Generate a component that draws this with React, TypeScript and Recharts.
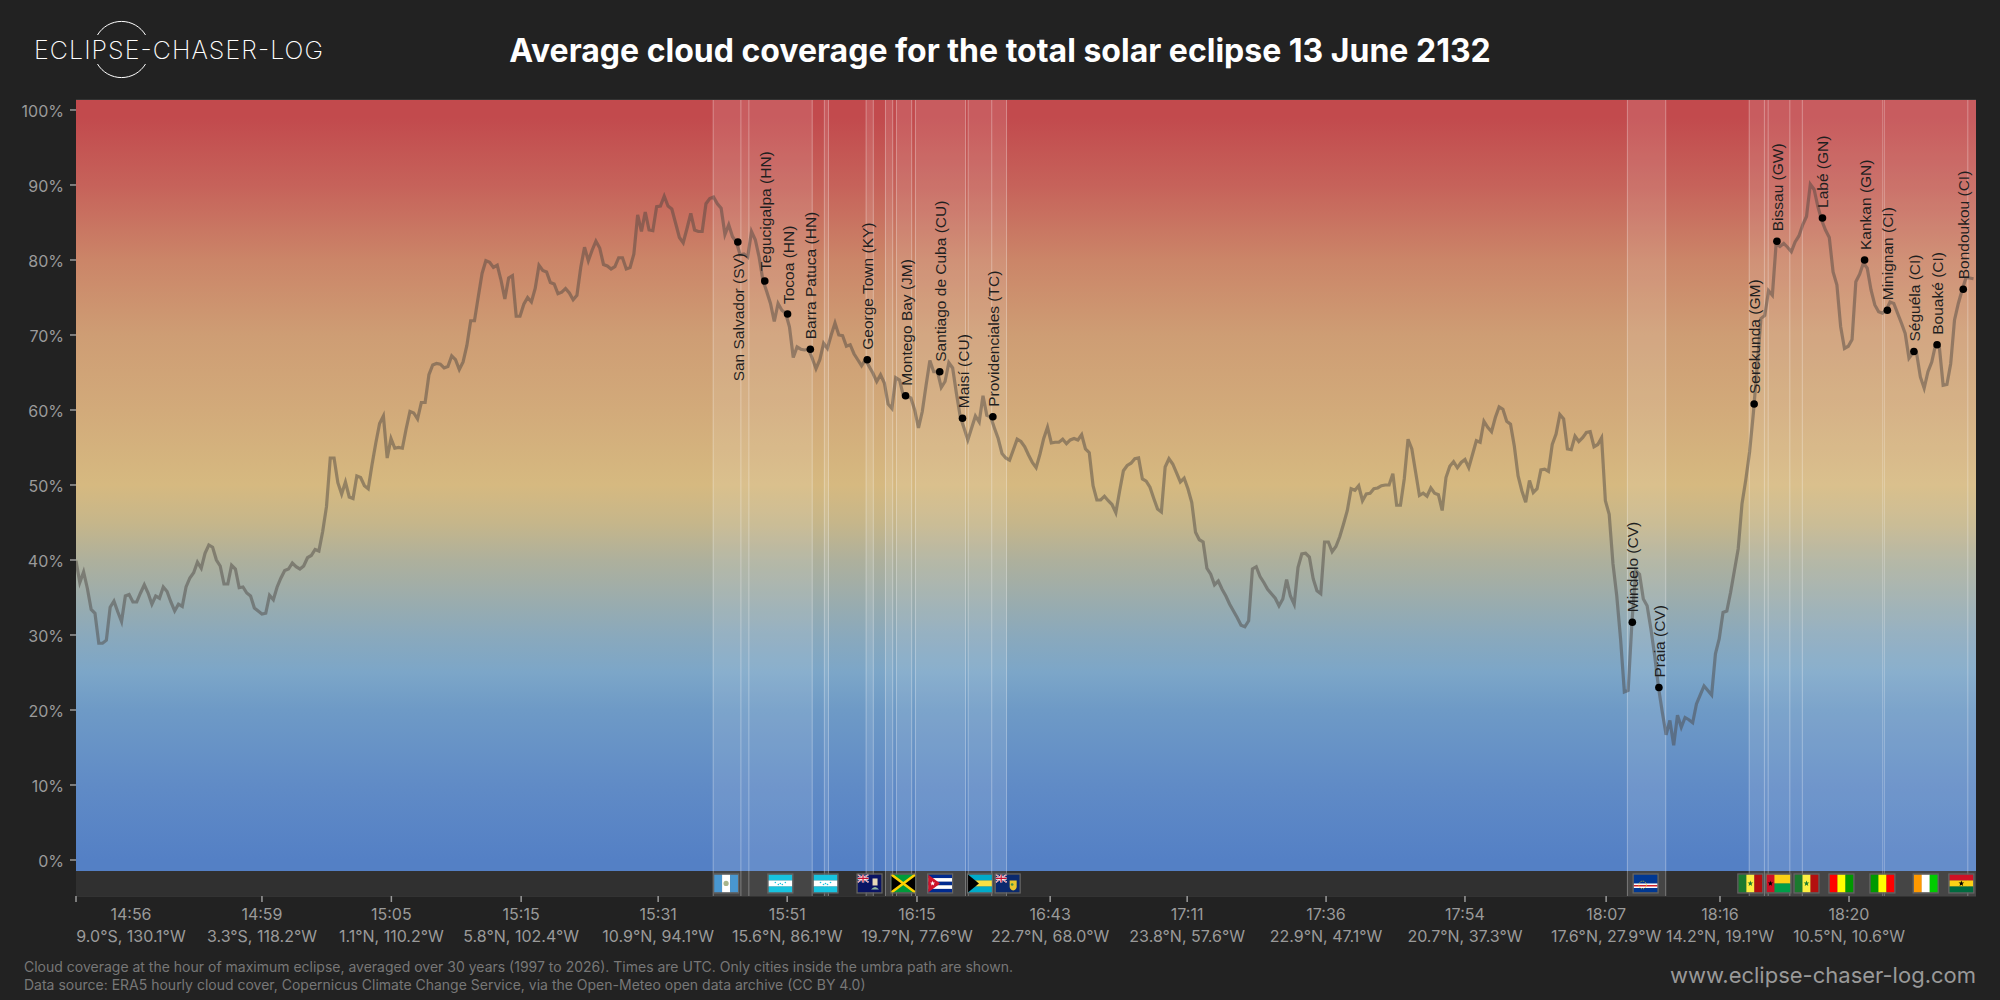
import React from 'react';
import {
  CartesianGrid,
  ComposedChart,
  Line,
  ReferenceArea,
  ReferenceLine,
  Scatter,
  XAxis,
  YAxis,
} from 'recharts';

const UI_FONT = 'Inter, "Noto Sans", sans-serif';
const CITY_FONT = '"Liberation Sans", Arial, sans-serif';

// Mean cloud cover (%) per sample along the eclipse track
const cloudCover = [
  39.9, 37.0, 38.4, 36.2, 33.4, 32.9, 28.9, 28.9, 29.3, 33.7,
  34.5, 33.1, 31.8, 35.2, 35.4, 34.4, 34.4, 35.6, 36.7, 35.6,
  34.1, 35.2, 34.9, 36.4, 35.8, 34.4, 33.2, 34.1, 33.8, 36.4,
  37.6, 38.3, 39.7, 38.9, 40.9, 42.0, 41.7, 40.0, 39.2, 36.8,
  36.8, 39.3, 38.8, 36.3, 36.4, 35.6, 35.2, 33.6, 33.2, 32.8,
  32.9, 35.3, 34.7, 36.4, 37.6, 38.6, 38.8, 39.6, 39.1, 38.8,
  39.2, 40.3, 40.6, 41.4, 41.2, 43.8, 47.1, 53.6, 53.6, 50.3,
  48.8, 50.4, 48.4, 48.2, 51.2, 51.0, 49.9, 49.5, 52.7, 55.6,
  58.2, 59.2, 53.6, 56.2, 54.9, 55.0, 54.9, 57.5, 59.8, 59.6,
  58.8, 61.0, 61.0, 64.7, 66.0, 66.2, 66.1, 65.6, 65.8, 67.2,
  66.7, 65.4, 66.4, 68.6, 71.9, 71.9, 75.1, 78.2, 79.9, 79.7,
  79.0, 79.3, 77.3, 74.8, 77.6, 77.9, 72.5, 72.5, 74.1, 75.0,
  74.4, 76.2, 79.3, 78.6, 78.4, 77.0, 76.8, 75.5, 75.7, 76.2,
  75.6, 74.7, 75.3, 79.0, 81.7, 79.9, 81.3, 82.5, 81.6, 79.4,
  79.2, 78.8, 79.1, 80.3, 80.3, 78.8, 79.0, 80.8, 86.0, 83.8,
  86.4, 84.0, 83.9, 87.1, 87.2, 88.5, 87.2, 86.8, 84.9, 83.0,
  82.3, 84.2, 86.2, 84.0, 83.8, 83.8, 87.5, 88.2, 88.4, 87.5,
  86.9, 83.4, 84.7, 83.1, 82.4, 80.7, 80.8, 80.4, 83.8, 82.7,
  80.4, 77.3, 75.8, 74.2, 71.8, 74.2, 73.3, 72.9, 71.1, 67.0,
  68.4, 68.1, 68.0, 68.1, 66.9, 65.5, 66.7, 68.9, 68.2, 70.0,
  71.6, 70.0, 69.9, 68.5, 68.7, 67.5, 66.7, 65.9, 66.7, 65.8,
  64.9, 63.8, 64.7, 63.6, 60.8, 60.2, 64.3, 64.0, 61.9, 61.8,
  61.6, 60.0, 57.6, 59.8, 63.3, 66.6, 65.1, 65.1, 63.0, 63.8,
  66.3, 65.6, 62.2, 59.1, 57.6, 56.0, 57.6, 59.2, 58.4, 61.9,
  59.3, 59.1, 57.6, 56.2, 54.2, 53.6, 53.3, 54.7, 56.1, 55.8,
  55.1, 54.0, 53.0, 52.3, 54.1, 56.2, 57.7, 55.6, 55.7, 55.7,
  56.1, 55.5, 56.0, 56.2, 56.0, 56.7, 54.8, 54.3, 49.9, 48.0,
  48.0, 48.5, 47.9, 47.4, 46.3, 49.2, 51.9, 52.6, 52.9, 53.5,
  53.6, 50.8, 50.5, 49.7, 48.2, 46.8, 46.4, 52.4, 53.5, 52.8,
  51.6, 50.4, 50.9, 49.5, 47.7, 43.7, 42.7, 42.4, 38.9, 38.1,
  36.7, 37.2, 36.1, 35.2, 34.1, 33.2, 32.3, 31.3, 31.1, 31.9,
  38.8, 39.1, 37.8, 37.0, 36.1, 35.5, 34.9, 33.9, 34.8, 37.4,
  35.2, 34.1, 39.0, 40.8, 40.9, 40.4, 37.5, 35.9, 35.5, 42.4,
  42.4, 41.1, 41.8, 43.1, 44.8, 46.6, 49.5, 49.3, 49.9, 47.9,
  48.8, 48.9, 49.5, 49.6, 49.9, 50.0, 50.0, 51.5, 47.3, 47.3,
  50.8, 56.1, 54.8, 51.7, 48.6, 48.9, 48.5, 49.6, 48.9, 48.7,
  46.6, 51.0, 52.5, 53.1, 52.3, 53.0, 53.4, 52.3, 54.1, 55.9,
  55.7, 58.5, 57.7, 57.1, 59.0, 60.4, 60.1, 58.5, 58.1, 55.2,
  51.2, 49.2, 47.7, 50.6, 49.0, 49.5, 52.0, 52.1, 51.8, 55.4,
  56.8, 59.4, 58.8, 54.8, 54.7, 56.5, 55.8, 56.3, 57.0, 57.1,
  55.1, 55.4, 56.3, 47.9, 46.1, 39.5, 35.2, 29.5, 22.4, 22.6,
  31.7, 38.6, 38.1, 34.8, 33.9, 30.8, 27.2, 23.0, 19.7, 16.7,
  18.6, 15.3, 19.3, 17.7, 19.0, 18.7, 18.3, 20.8, 22.0, 23.2,
  22.6, 22.0, 27.5, 29.5, 33.0, 33.2, 35.7, 38.6, 41.5, 47.5,
  50.7, 54.4, 59.6, 65.8, 72.2, 72.6, 75.9, 75.3, 82.2, 81.8,
  82.2, 81.7, 81.1, 82.4, 83.2, 84.7, 85.8, 90.1, 89.4, 87.1,
  85.3, 84.0, 83.0, 78.4, 76.7, 71.1, 68.2, 68.5, 69.4, 77.1,
  78.1, 79.6, 78.9, 76.0, 74.0, 73.1, 72.9, 73.3, 74.4, 74.2,
  72.9, 71.6, 70.2, 66.9, 67.6, 67.6, 64.4, 62.9, 65.1, 66.4,
  68.7, 68.4, 63.3, 63.4, 66.2, 72.0, 74.2, 76.0, 77.6, 77.6,
  77.5,
];

const cityNames = [
  'San Salvador (SV)', 'Tegucigalpa (HN)', 'Tocoa (HN)', 'Barra Patuca (HN)',
  'George Town (KY)', 'Montego Bay (JM)', 'Santiago de Cuba (CU)', 'Maisí (CU)',
  'Providenciales (TC)', 'Mindelo (CV)', 'Praia (CV)', 'Serekunda (GM)',
  'Bissau (GW)', 'Labé (GN)', 'Kankan (GN)', 'Minignan (CI)', 'Séguéla (CI)',
  'Bouaké (CI)', 'Bondoukou (CI)',
];
const cityTrack = [
  174.4, 181.5, 187.5, 193.5, 208.5, 218.6, 227.6, 233.6, 241.6, 410.1, 417.1,
  442.2, 448.2, 460.2, 471.3, 477.3, 484.3, 490.4, 497.3,
];
const cityCover = [
  82.4, 77.2, 72.8, 68.1, 66.7, 61.9, 65.1, 58.9, 59.1, 31.7, 23.0, 60.8, 82.5,
  85.6, 80.0, 73.3, 67.8, 68.7, 76.1,
];

// Stretches of the track where a country lies inside the umbra
const umbraStart = [
  167.9, 175.2, 177.3, 197.2, 208.2, 213.3, 216.2, 221.2, 235.1, 241.3, 408.8,
  440.9, 444.9, 445.9, 451.6, 454.9, 476.5, 498.5,
];
const umbraEnd = [
  175.2, 177.3, 194.0, 198.3, 210.1, 215.2, 220.2, 234.4, 241.3, 245.2, 418.9,
  444.9, 445.9, 451.6, 454.9, 476.1, 498.5, 500.66,
];

const flagCodes = ['gt', 'hn', 'hn', 'ky', 'jm', 'cu', 'bs', 'tc', 'cv', 'sn', 'gw', 'sn', 'gn', 'ml', 'ci', 'gh'];
const flagTrack = [171.3, 185.6, 197.5, 209.1, 218.0, 227.7, 238.2, 245.5, 413.6, 441.2, 448.6, 456.0, 465.2, 476.0, 487.4, 496.8];

const xTicks = [0, 49, 83.1, 117.3, 153.4, 187.4, 221.6, 256.7, 292.8, 329.4, 366, 403.2, 433.2, 467.2];
const tickTimes = ['14:56', '14:59', '15:05', '15:15', '15:31', '15:51', '16:15', '16:43', '17:11', '17:36', '17:54', '18:07', '18:16', '18:20'];
const tickCoords = [
  '9.0°S, 130.1°W', '3.3°S, 118.2°W', '1.1°N, 110.2°W', '5.8°N, 102.4°W', '10.9°N, 94.1°W',
  '15.6°N, 86.1°W', '19.7°N, 77.6°W', '22.7°N, 68.0°W', '23.8°N, 57.6°W', '22.9°N, 47.1°W',
  '20.7°N, 37.3°W', '17.6°N, 27.9°W', '14.2°N, 19.1°W', '10.5°N, 10.6°W',
];
const yTicks = [0, 10, 20, 30, 40, 50, 60, 70, 80, 90, 100];

const gradientValues = [101.33, 99, 90, 80, 70, 60, 50, 45, 40, 30, 25, 20, 10, 0, -1.47];
const gradientColors = [
  '#c24a4d', '#c24a4d', '#c6625a', '#cb8568', '#ce9d74', '#d2aa7a', '#d6b980', '#c6b68a',
  '#aeb09c', '#8aa9bc', '#7ca6c8', '#6e9ac6', '#608bc6', '#5480c5', '#5480c5',
];

const Y_TOP = 101.33;
const Y_PLOT_BOTTOM = -1.47;
const Y_BOTTOM = -4.8;
const TRACK_END = 500.66;
const FLAG_ROW = -3.13;

const coverData = cloudCover.map((value, index) => ({ index, value }));
const cityData = cityNames.map((name, i) => ({
  name,
  index: cityTrack[i],
  value: cityCover[i],
  below: i === 0,
}));
const flagData = flagCodes.map((code, i) => ({ code, index: flagTrack[i], value: FLAG_ROW }));
const umbra = umbraStart.map((start, i) => ({ start, end: umbraEnd[i] }));
const umbraEdges = Array.from(new Set([...umbraStart, ...umbraEnd])).filter((x) => x < TRACK_END);

function star(cx: number, cy: number, r: number): string {
  const pts: string[] = [];
  for (let i = 0; i < 10; i++) {
    const rad = i % 2 === 0 ? r : r * 0.42;
    const a = -Math.PI / 2 + (i * Math.PI) / 5;
    pts.push(`${cx + rad * Math.cos(a)},${cy + rad * Math.sin(a)}`);
  }
  return pts.join(' ');
}

function bars(colors: string[], vertical = true) {
  const n = colors.length;
  return colors.map((c, i) =>
    vertical ? (
      <rect key={c + i} x={(24 / n) * i} y={0} width={24 / n + 0.2} height={18} fill={c} />
    ) : (
      <rect key={c + i} x={0} y={(18 / n) * i} width={24} height={18 / n + 0.2} fill={c} />
    ),
  );
}

function UnionCanton() {
  return (
    <g>
      <rect width={11} height={8} fill="#012169" />
      <path d="M0 0L11 8M11 0L0 8" stroke="#fff" strokeWidth={1.6} />
      <path d="M0 0L11 8M11 0L0 8" stroke="#c8102e" strokeWidth={0.6} />
      <path d="M5.5 0V8M0 4H11" stroke="#fff" strokeWidth={2.4} />
      <path d="M5.5 0V8M0 4H11" stroke="#c8102e" strokeWidth={1.2} />
    </g>
  );
}

function FlagArt({ code }: { code: string }) {
  switch (code) {
    case 'gt':
      return (
        <g>
          {bars(['#4997d0', '#ffffff', '#4997d0'])}
          <circle cx={12} cy={9} r={2.6} fill="#a9b58c" />
        </g>
      );
    case 'hn':
      return (
        <g>
          {bars(['#18c3df', '#ffffff', '#18c3df'], false)}
          {[7, 10, 12, 14, 17].map((dx, i) => (
            <circle key={i} cx={dx} cy={i === 2 ? 9 : i % 2 === 1 ? 10 : 8} r={0.8} fill="#18c3df" />
          ))}
        </g>
      );
    case 'ky':
      return (
        <g>
          <rect width={24} height={18} fill="#0a1464" />
          <UnionCanton />
          <rect x={15} y={4} width={5} height={7} fill="#e6d9b8" />
          <path d="M13.5 15Q17.5 10 21.5 15Z" fill="#8fb9a0" />
        </g>
      );
    case 'jm':
      return (
        <g>
          <rect width={24} height={18} fill="#009b3a" />
          <path d="M0 0L12 9L0 18ZM24 0L12 9L24 18Z" fill="#000" />
          <path d="M0 0L24 18M24 0L0 18" stroke="#fed100" strokeWidth={2.6} />
        </g>
      );
    case 'cu':
      return (
        <g>
          {bars(['#002a8f', '#ffffff', '#002a8f', '#ffffff', '#002a8f'], false)}
          <path d="M0 0L12 9L0 18Z" fill="#cf142b" />
          <polygon points={star(4.5, 9, 2.6)} fill="#fff" />
        </g>
      );
    case 'bs':
      return (
        <g>
          {bars(['#00abc9', '#fae042', '#00abc9'], false)}
          <path d="M0 0L11 9L0 18Z" fill="#000" />
        </g>
      );
    case 'tc':
      return (
        <g>
          <rect width={24} height={18} fill="#0b2a6e" />
          <UnionCanton />
          <path d="M14 6H21V12Q21 15 17.5 16Q14 15 14 12Z" fill="#e8c62e" />
          <circle cx={16.5} cy={10} r={1.3} fill="#3f8f4a" />
        </g>
      );
    case 'cv':
      return (
        <g>
          <rect width={24} height={18} fill="#003893" />
          <rect y={9} width={24} height={4.5} fill="#fff" />
          <rect y={10.5} width={24} height={1.5} fill="#cf2027" />
          <circle cx={9} cy={10.5} r={3.8} fill="none" stroke="#f7d116" strokeWidth={0.9} strokeDasharray="1 1.2" />
        </g>
      );
    case 'sn':
      return (
        <g>
          {bars(['#1b7a2e', '#fdef42', '#b40f0f'])}
          <polygon points={star(12, 9, 3)} fill="#1b7a2e" />
        </g>
      );
    case 'gw':
      return (
        <g>
          {bars(['#fcd116', '#009e49'], false)}
          <rect width={8} height={18} fill="#ce1126" />
          <polygon points={star(4, 9, 2.8)} fill="#000" />
        </g>
      );
    case 'gn':
      return <g>{bars(['#ff0000', '#ffff00', '#009900'])}</g>;
    case 'ml':
      return <g>{bars(['#009900', '#ffff00', '#ff0000'])}</g>;
    case 'ci':
      return <g>{bars(['#ff9900', '#ffffff', '#00cc00'])}</g>;
    case 'gh':
      return (
        <g>
          {bars(['#ce1126', '#fcd116', '#006b3f'], false)}
          <polygon points={star(12, 9, 3)} fill="#000" />
        </g>
      );
    default:
      return null;
  }
}

function FlagMark(props: any) {
  const { cx, cy, payload } = props;
  return (
    <g transform={`translate(${cx - 12},${cy - 9})`}>
      <FlagArt code={payload.code} />
      <rect x={-0.5} y={-0.5} width={25} height={19} fill="none" stroke="#666" strokeWidth={1.2} />
    </g>
  );
}

function CityMark(props: any) {
  const { cx, cy, payload } = props;
  const tx = cx + 6;
  const ty = payload.below ? cy + 11 : cy - 10;
  return (
    <g>
      <circle cx={cx} cy={cy} r={3.8} fill="#000" />
      <text
        x={tx}
        y={ty}
        transform={`rotate(-90 ${tx} ${ty})`}
        textAnchor={payload.below ? 'end' : 'start'}
        fontFamily={CITY_FONT}
        fontSize={15.5}
        fill="#1f1f1f"
      >
        {payload.name}
      </text>
    </g>
  );
}

function TrackTick(props: any) {
  const { x, y, index } = props;
  const cx = index === 0 ? x + 55 : x;
  return (
    <g fontFamily={UI_FONT} fontSize={16} fill="#9a9a9a" textAnchor="middle">
      <text x={cx} y={y + 16}>{tickTimes[index]}</text>
      <text x={cx} y={y + 38}>{tickCoords[index]}</text>
    </g>
  );
}

function Logo() {
  return (
    <svg
      width={340}
      height={96}
      style={{ position: 'absolute', left: 0, top: 0 }}
    >
      <path d="M97.5 35A28 28 0 0 1 145.5 35M97.5 64A28 28 0 0 0 145.5 64" fill="none" stroke="#fff" strokeWidth={1} />
      <text
        x={34}
        y={59}
        fontFamily={UI_FONT}
        fontWeight={200}
        fontSize={25}
        fill="#fff"
        textLength={289}
        lengthAdjust="spacing"
      >
        ECLIPSE-CHASER-LOG
      </text>
    </svg>
  );
}

export default function App() {
  return (
    <div
      style={{
        position: 'fixed',
        left: 0,
        top: 0,
        width: 2000,
        height: 1000,
        background: '#222222',
        overflow: 'hidden',
      }}
    >
      <ComposedChart
        width={2000}
        height={1000}
        data={coverData}
        margin={{ top: 100, right: 24, bottom: 0, left: 0 }}
      >
        <defs>
          <linearGradient id="cloudGradient" x1="0" y1="0" x2="0" y2="1">
            {gradientValues.map((v, i) => (
              <stop
                key={v}
                offset={(Y_TOP - v) / (Y_TOP - Y_PLOT_BOTTOM)}
                stopColor={gradientColors[i]}
              />
            ))}
          </linearGradient>
        </defs>
        <XAxis
          dataKey="index"
          type="number"
          domain={[0, TRACK_END]}
          ticks={xTicks}
          interval={0}
          height={104}
          tick={<TrackTick />}
          tickLine={{ stroke: '#9a9a9a', strokeWidth: 1.5 }}
          tickSize={6}
          axisLine={false}
          allowDataOverflow
        />
        <YAxis
          type="number"
          domain={[Y_BOTTOM, Y_TOP]}
          ticks={yTicks}
          interval={0}
          width={76}
          tickFormatter={(v: number) => `${v}%`}
          tick={{ fill: '#9a9a9a', fontSize: 16, fontFamily: UI_FONT, dy: 1.5 }}
          tickLine={{ stroke: '#9a9a9a', strokeWidth: 1.5 }}
          tickSize={6}
          tickMargin={6}
          axisLine={false}
          allowDataOverflow
        />
        <ReferenceArea y1={Y_BOTTOM} y2={Y_PLOT_BOTTOM} fill="#303030" fillOpacity={1} stroke="none" />
        <ReferenceArea y1={Y_PLOT_BOTTOM} y2={Y_TOP} fill="url(#cloudGradient)" fillOpacity={1} stroke="none" />
        <CartesianGrid vertical={false} stroke="#ffffff" strokeOpacity={0.16} />
        {umbra.map((band) => (
          <ReferenceArea
            key={band.start}
            x1={band.start}
            x2={band.end}
            y1={Y_BOTTOM}
            y2={Y_TOP}
            fill="#ffffff"
            fillOpacity={0.1}
            stroke="none"
          />
        ))}
        {umbraEdges.map((edge) => (
          <ReferenceLine key={edge} x={edge} stroke="#ffffff" strokeOpacity={0.32} strokeWidth={1} />
        ))}
        <Line
          dataKey="value"
          type="linear"
          stroke="#4a4540"
          strokeOpacity={0.47}
          strokeWidth={3.2}
          dot={false}
          isAnimationActive={false}
        />
        <Scatter data={flagData} dataKey="value" shape={<FlagMark />} isAnimationActive={false} />
        <Scatter data={cityData} dataKey="value" shape={<CityMark />} isAnimationActive={false} />
      </ComposedChart>
      <Logo />
      <div
        style={{
          position: 'absolute',
          left: 0,
          width: 2000,
          top: 29,
          textAlign: 'center',
          fontFamily: UI_FONT,
          fontWeight: 700,
          fontSize: 32,
          lineHeight: '44px',
          color: '#fff',
        }}
      >
        Average cloud coverage for the total solar eclipse 13 June 2132
      </div>
      <div
        style={{
          position: 'absolute',
          left: 24,
          top: 958,
          fontFamily: UI_FONT,
          fontSize: 14,
          lineHeight: '18px',
          color: '#777',
        }}
      >
        Cloud coverage at the hour of maximum eclipse, averaged over 30 years (1997 to 2026). Times are UTC. Only cities inside the umbra path are shown.
        <br />
        Data source: ERA5 hourly cloud cover, Copernicus Climate Change Service, via the Open-Meteo open data archive (CC BY 4.0)
      </div>
      <div
        style={{
          position: 'absolute',
          right: 24,
          top: 960,
          fontFamily: UI_FONT,
          fontSize: 22,
          lineHeight: '30px',
          color: '#999',
        }}
      >
        www.eclipse-chaser-log.com
      </div>
    </div>
  );
}
